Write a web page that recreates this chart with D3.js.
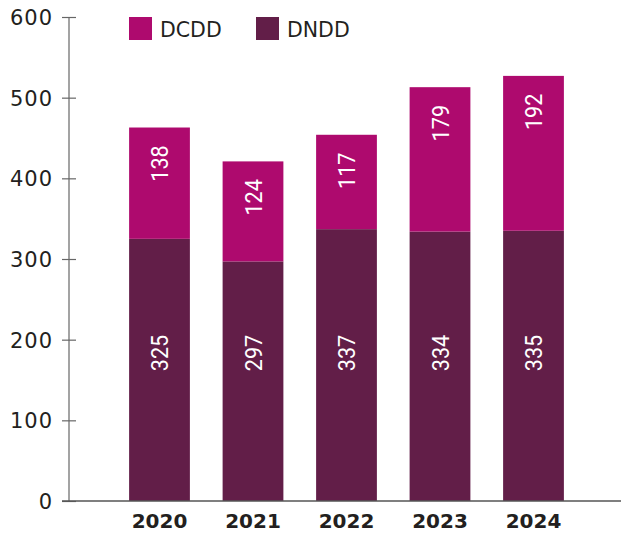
<!DOCTYPE html>
<html><head><meta charset="utf-8">
<script src="https://cdn.jsdelivr.net/npm/d3@7"></script>
<style>body{margin:0;background:#fff}svg{display:block}</style>
</head><body>
<svg id="c" width="621" height="534"></svg>
<script>
const years = ["2020","2021","2022","2023","2024"];
const dndd = [325, 297, 337, 334, 335];
const dcdd = [138, 124, 117, 179, 192];
const yTicks = [0,100,200,300,400,500,600];
const seriesNames = ["DCDD","DNDD"];
const colors = {DCDD:"#AE0A6E", DNDD:"#621E48"};

const svg = d3.select("#c");
const y = d3.scaleLinear().domain([0,600]).range([501,17]);
const x = d3.scaleBand().domain(years).range([112.75,580.25]).paddingInner(0.35).paddingOuter(0.175);
const axisX = 69;
const textCol = "#231F20";

// y axis
const yAxis = d3.axisLeft(y).tickValues(yTicks).tickSize(7).tickPadding(0).tickFormat(d3.format("d"));
const ga = svg.append("g").attr("transform",`translate(${axisX},0)`).call(yAxis);
ga.select(".domain").attr("stroke","#666").attr("stroke-width",1.2).attr("d",`M0,${y(600)}V${y(0)}`);
ga.selectAll(".tick line").attr("stroke","#666").attr("stroke-width",1.2).attr("x1",-7).attr("x2",7);
ga.selectAll(".tick text").attr("x",-16).attr("dy","0.36em")
  .attr("fill",textCol).style("font-family","DejaVu Sans").style("font-size","21px").style("letter-spacing","1px");

// bars
const stack = years.map((yr,i)=>({yr, a:dndd[i], b:dcdd[i]}));
svg.append("g").selectAll("rect.n").data(stack).join("rect")
  .attr("x",d=>x(d.yr)).attr("width",x.bandwidth())
  .attr("y",d=>y(d.a)).attr("height",d=>y(0)-y(d.a)).attr("fill",colors.DNDD);
svg.append("g").selectAll("rect.c").data(stack).join("rect")
  .attr("x",d=>x(d.yr)).attr("width",x.bandwidth())
  .attr("y",d=>y(d.a+d.b)).attr("height",d=>y(d.a)-y(d.a+d.b)).attr("fill",colors.DCDD);

// x baseline
svg.append("line").attr("x1",62).attr("x2",621).attr("y1",y(0)).attr("y2",y(0))
  .attr("stroke","#555").attr("stroke-width",1.5);

// x labels
const xAxis = d3.axisBottom(x).tickSize(0).tickPadding(0);
const gx = svg.append("g").attr("transform",`translate(0,${y(0)})`).call(xAxis);
gx.select(".domain").remove();
gx.selectAll(".tick text").attr("y",27).attr("dy",0).attr("fill",textCol)
  .style("font-family","DejaVu Sans").style("font-weight","bold").style("font-size","20px");

// bar value labels
const lab = svg.append("g").style("font-family","Roboto").style("font-size","24px").attr("fill","#fff").attr("text-anchor","middle");
lab.selectAll("text.c").data(stack).join("text")
  .attr("transform",d=>`translate(${x(d.yr)+x.bandwidth()/2+8.5},${y(d.a+d.b)+36}) rotate(-90) scale(0.9,1)`)
  .text(d=>d.b);
lab.selectAll("text.n").data(stack).join("text")
  .attr("transform",d=>`translate(${x(d.yr)+x.bandwidth()/2+8.5},${y(0)-148}) rotate(-90) scale(0.9,1)`)
  .text(d=>d.a);

// legend
const legX = [129, 256];
const lg = svg.append("g");
seriesNames.forEach((s,i)=>{
  lg.append("rect").attr("x",legX[i]).attr("y",17).attr("width",23).attr("height",23).attr("fill",colors[s]);
  lg.append("text").attr("x",legX[i]+31).attr("y",36.5).attr("fill",textCol)
    .style("font-family","DejaVu Sans").style("font-size","20.5px").text(s);
});
</script>
</body></html>
